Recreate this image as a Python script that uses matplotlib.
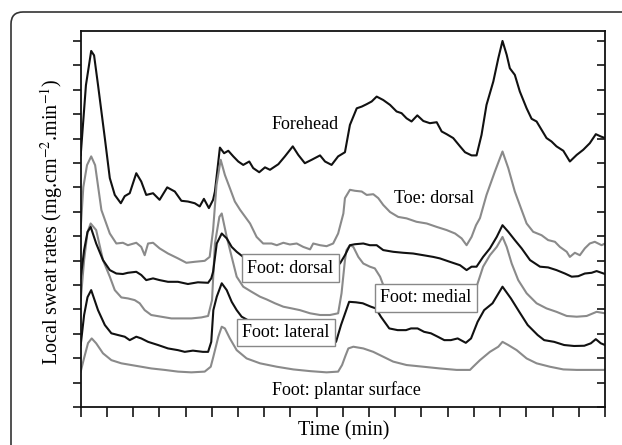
import numpy as np
import matplotlib
matplotlib.use('Agg')
import matplotlib.pyplot as plt
from matplotlib.patches import FancyBboxPatch

plt.rcParams['font.family'] = ['Liberation Serif', 'DejaVu Serif']
plt.rcParams['mathtext.fontset'] = 'stix'

# local sweat rate traces (x: time ticks, y: offset sweat rate units)
forehead_t = [0, 0.20, 0.40, 0.51, 0.66, 0.92, 1.11, 1.30, 1.53, 1.68, 1.87, 2.12, 2.31, 2.50, 2.76,
              3.01, 3.30, 3.59, 3.84, 4.09, 4.35, 4.54, 4.70, 4.89, 5.05, 5.12, 5.31, 5.47, 5.63, 5.82,
              6.01, 6.20, 6.43, 6.58, 6.81, 7.03, 7.22, 7.54, 7.79, 8.09, 8.30, 8.55, 8.81, 9.13, 9.32,
              9.57, 9.82, 10.08, 10.27, 10.53, 10.72, 10.91, 11.10, 11.29, 11.54, 11.80, 12.05, 12.24,
              12.43, 12.62, 12.84, 13.07, 13.32, 13.58, 13.77, 13.96, 14.21, 14.47, 14.66, 14.91, 15.10,
              15.29, 15.48, 15.74, 15.93, 16.09, 16.25, 16.37, 16.56, 16.75, 17.01, 17.20, 17.39, 17.58,
              17.77, 17.96, 18.15, 18.41, 18.66, 18.92, 19.17, 19.42, 19.65, 19.83, 20.00]
forehead = [10.32, 13.19, 14.59, 14.41, 13.20, 11.02, 9.38, 8.69, 8.35, 8.64, 8.76, 9.58, 9.24, 8.69, 8.76,
            8.49, 9.00, 8.83, 8.45, 8.42, 8.35, 8.22, 8.53, 8.15, 8.49, 8.83, 10.63, 10.40, 10.50, 10.27,
            10.06, 9.92, 10.06, 9.79, 9.62, 9.82, 9.72, 9.95, 10.27, 10.68, 10.33, 9.99, 10.13, 10.31, 10.06,
            9.92, 10.27, 10.44, 11.56, 12.24, 12.31, 12.41, 12.52, 12.72, 12.58, 12.38, 12.11, 12.04,
            11.83, 11.70, 11.95, 11.72, 11.63, 11.67, 11.29, 11.18, 11.02, 10.68, 10.44, 10.31, 10.31,
            11.15, 12.38, 13.34, 14.29, 15.00, 14.43, 13.88, 13.61, 12.93, 12.24, 11.81, 11.70, 11.36,
            11.02, 10.88, 10.68, 10.50, 10.06, 10.33, 10.54, 10.81, 11.18, 11.09, 11.02]

toe_t = [0, 0.10, 0.24, 0.40, 0.55, 0.79, 1.11, 1.36, 1.61, 1.80, 2.12, 2.31, 2.44, 2.57, 2.76, 3.01,
         3.33, 3.71, 4.03, 4.35, 4.73, 4.92, 5.05, 5.18, 5.34, 5.50, 5.69, 5.88, 6.08, 6.46, 6.71, 6.96,
         7.28, 7.48, 7.73, 7.98, 8.24, 8.49, 8.75, 8.87, 9.13, 9.38, 9.63, 9.82, 10.02, 10.08, 10.27,
         10.46, 10.72, 10.91, 11.16, 11.35, 11.54, 11.80, 12.11, 12.43, 12.81, 13.20, 13.58, 13.96,
         14.28, 14.53, 14.72, 14.91, 15.08, 15.23, 15.48, 15.80, 16.09, 16.31, 16.56, 16.82, 17.01,
         17.26, 17.58, 17.83, 18.09, 18.28, 18.54, 18.66, 18.85, 19.04, 19.23, 19.42, 19.61, 19.87, 20.00]
toe = [7.33, 9.01, 9.91, 10.27, 9.91, 8.07, 7.11, 6.70, 6.73, 6.63, 6.73, 6.56, 6.22, 6.70, 6.73, 6.50,
       6.29, 6.09, 5.91, 5.95, 5.99, 6.15, 7.25, 9.09, 10.13, 9.51, 8.97, 8.42, 8.08, 7.52, 6.97, 6.70,
       6.70, 6.63, 6.73, 6.66, 6.70, 6.56, 6.46, 6.70, 6.63, 6.59, 6.70, 7.11, 7.93, 8.56, 8.90,
       8.86, 8.83, 8.69, 8.72, 8.56, 8.28, 7.99, 7.79, 7.73, 7.59, 7.52, 7.38, 7.25,
       7.11, 6.91, 6.63, 6.97, 7.45, 7.74, 8.69, 9.65, 10.47, 9.79, 8.83, 8.07, 7.52,
       7.18, 7.04, 6.84, 6.77, 6.56, 6.36, 6.15, 6.32, 6.22, 6.50, 6.70, 6.77, 6.63, 6.70]

dorsal_t = [0, 0.13, 0.26, 0.38, 0.59, 0.85, 1.11, 1.36, 1.61, 1.80, 2.12, 2.31, 2.50, 2.76, 3.01, 3.33,
            3.71, 4.09, 4.47, 4.86, 4.98, 5.05, 5.19, 5.38, 5.57, 5.76, 5.95, 6.20, 7.22, 8.36, 9.32,
            9.89, 10.08, 10.27, 10.46, 10.78, 11.03, 11.29, 11.54, 11.92, 12.30, 12.68, 13.07, 13.45,
            13.70, 14.08, 14.47, 14.72, 14.91, 15.10, 15.35, 15.61, 15.87, 16.09, 16.31, 16.56, 16.82,
            17.14, 17.52, 17.83, 18.15, 18.47, 18.73, 18.98, 19.23, 19.49, 19.68, 20.00]
dorsal = [5.28, 6.43, 7.17, 7.38, 6.70, 6.02, 5.61, 5.47, 5.45, 5.50, 5.54, 5.41, 5.20, 5.27, 5.20, 5.13,
          5.13, 5.04, 5.11, 5.09, 5.27, 5.54, 6.70, 7.11, 6.91, 6.56, 6.36, 6.15, 6.02, 5.94, 5.86,
          5.88, 6.22, 6.63, 6.67, 6.70, 6.63, 6.63, 6.43, 6.36, 6.32, 6.29, 6.22, 6.15,
          6.09, 5.95, 5.81, 5.61, 5.75, 5.75, 6.15, 6.50, 6.97, 7.45, 7.18, 6.84, 6.50,
          6.02, 5.75, 5.72, 5.61, 5.47, 5.34, 5.36, 5.47, 5.50, 5.57, 5.45]

medial_t = [0, 0.13, 0.26, 0.38, 0.59, 0.85, 1.11, 1.30, 1.55, 1.80, 2.06, 2.25, 2.44, 2.69, 3.07, 3.46,
            3.84, 4.22, 4.60, 4.86, 5.01, 5.12, 5.29, 5.38, 5.57, 5.76, 5.95, 6.20, 6.52, 6.84, 7.09,
            7.41, 7.73, 8.05, 8.36, 8.75, 9.13, 9.51, 9.82, 9.95, 10.08, 10.14, 10.27, 10.40, 10.59,
            10.78, 11.03, 11.22, 11.42, 11.54, 12.18, 13.32, 14.47, 14.85, 15.10, 15.35, 15.61, 15.87,
            16.09, 16.25, 16.44, 16.69, 17.01, 17.39, 17.77, 18.15, 18.54, 18.92, 19.30, 19.68, 20.00]
medial = [4.38, 6.02, 7.17, 7.52, 7.25, 6.02, 5.34, 4.79, 4.49, 4.45, 4.38, 4.25, 3.97, 3.77, 3.70, 3.63,
          3.63, 3.63, 3.67, 3.73, 4.38, 6.70, 7.79, 7.93, 6.97, 6.15, 5.34, 4.93, 4.72, 4.52, 4.41,
          4.25, 4.11, 4.04, 3.97, 3.84, 3.77, 3.77, 3.84, 4.66, 6.02, 6.43, 6.63, 6.56, 6.15,
          5.88, 5.75, 5.68, 5.34, 5.00, 4.59, 4.30, 4.05, 3.97, 4.93, 5.75, 6.22, 6.56,
          6.97, 6.56, 5.88, 5.20, 4.66, 4.25, 4.04, 3.90, 3.73, 3.70, 3.73, 3.90, 3.84]

lateral_t = [0, 0.13, 0.26, 0.40, 0.66, 0.92, 1.17, 1.42, 1.68, 1.87, 2.12, 2.31, 2.57, 2.95, 3.33, 3.71,
             3.97, 4.28, 4.66, 4.86, 4.98, 5.06, 5.19, 5.38, 5.57, 5.76, 5.95, 6.14, 6.84, 7.98, 9.13,
             9.74, 9.93, 10.24, 10.50, 10.76, 11.07, 11.26, 11.45, 11.77, 12.09, 12.41, 12.60, 12.85,
             13.10, 13.36, 13.62, 13.87, 14.12, 14.38, 14.69, 14.89, 15.14, 15.39, 15.71, 16.09, 16.41,
             16.73, 17.05, 17.43, 17.68, 18.06, 18.44, 18.82, 19.21, 19.46, 19.65, 19.84, 20.00]
lateral = [2.54, 3.77, 4.50, 4.79, 3.97, 3.36, 3.02, 2.95, 2.88, 2.74, 2.88, 2.81, 2.67, 2.54, 2.40, 2.33,
           2.26, 2.31, 2.26, 2.26, 2.67, 3.97, 4.52, 5.07, 4.79, 4.31, 3.97, 3.70, 3.28, 2.95, 2.74,
           2.67, 3.36, 4.31, 4.29, 4.25, 4.11, 4.04, 3.70, 3.22, 3.15, 3.15, 3.22, 3.22,
           3.08, 3.02, 2.88, 2.74, 2.74, 2.81, 2.63, 2.81, 3.49, 3.97, 4.25, 4.93, 4.45,
           3.90, 3.36, 2.95, 2.74, 2.67, 2.54, 2.50, 2.51, 2.61, 2.78, 2.61, 2.54]

plantar_t = [0, 0.13, 0.28, 0.42, 0.59, 0.85, 1.17, 1.55, 1.93, 2.31, 2.69, 3.20, 3.71, 4.22, 4.73, 4.96,
             5.06, 5.25, 5.38, 5.50, 5.69, 5.95, 6.33, 6.84, 7.48, 8.11, 8.75, 9.38, 9.82, 9.97, 10.10,
             10.21, 10.40, 10.78, 11.16, 11.54, 11.92, 12.43, 13.07, 13.70, 14.34, 14.85, 14.97, 15.23,
             15.61, 15.93, 16.09, 16.31, 16.63, 17.01, 17.39, 17.90, 18.41, 18.92, 19.42, 20.00]
plantar = [1.45, 2.01, 2.62, 2.81, 2.61, 2.20, 1.92, 1.79, 1.72, 1.65, 1.58, 1.52, 1.45, 1.42, 1.45, 1.65,
           2.06, 2.88, 3.29, 3.22, 2.81, 2.33, 1.99, 1.79, 1.65, 1.54, 1.47, 1.42, 1.45, 1.72, 2.10,
           2.40, 2.47, 2.40, 2.26, 2.06, 1.86, 1.72, 1.65, 1.58, 1.52, 1.52, 1.65, 1.92,
           2.26, 2.47, 2.67, 2.54, 2.33, 1.99, 1.79, 1.65, 1.54, 1.52, 1.52, 1.52]

BLACK = '#111111'
GREY = '#8a8a8a'

fig = plt.figure(figsize=(6.22, 4.45), dpi=100)

# rounded panel border running off the right and bottom edges
frame = FancyBboxPatch((11, -30), 660, 463, boxstyle='round,pad=0,rounding_size=12',
                       transform=None, facecolor='none', edgecolor='#333333', linewidth=1.2)
fig.patches.append(frame)

ax = fig.add_axes([80.7 / 622, 38 / 445, 524.3 / 622, 376.3 / 445])

ax.plot(forehead_t, forehead, color=BLACK, lw=1.5)
ax.plot(toe_t, toe, color=GREY, lw=1.5)
ax.plot(medial_t, medial, color=GREY, lw=1.5)
ax.plot(plantar_t, plantar, color=GREY, lw=1.5)
ax.plot(dorsal_t, dorsal, color=BLACK, lw=1.5)
ax.plot(lateral_t, lateral, color=BLACK, lw=1.5)

ax.set_xlim(0, 20)
ax.set_ylim(0, 15.42)
ax.set_xticks(np.arange(0, 21))
ax.set_yticks(np.arange(0, 16))
ax.tick_params(axis='x', direction='out', length=7, width=1.1, labelbottom=False, top=False)
ax.tick_params(axis='y', direction='out', length=6, width=1.1, labelleft=False)
for s in ax.spines.values():
    s.set_linewidth(1.3)
    s.set_color('#111111')

# inward ticks on the right side
ay = ax.secondary_yaxis('right')
ay.set_yticks(np.arange(0, 16))
ay.tick_params(direction='in', length=6, width=1.1, labelright=False)
ay.spines['right'].set_visible(False)

box = dict(boxstyle='square,pad=0.3', facecolor='white', edgecolor='#888888', linewidth=1.0)
ax.text(8.55, 11.59, 'Forehead', fontsize=13, ha='center', va='center')
ax.text(13.47, 8.56, 'Toe: dorsal', fontsize=13, ha='center', va='center')
ax.text(8.00, 5.69, 'Foot: dorsal', fontsize=13, ha='center', va='center', bbox=box)
ax.text(7.83, 3.05, 'Foot: lateral', fontsize=13, ha='center', va='center', bbox=box)
ax.text(13.17, 4.48, 'Foot: medial', fontsize=13, ha='center', va='center', bbox=box)
ax.text(10.14, 0.70, 'Foot: plantar surface', fontsize=13, ha='center', va='center')

fig.text(52 / 622, 1 - 222 / 445, r'Local sweat rates (mg.cm$^{-2}$.min$^{-1}$)',
         rotation=90, ha='center', va='center', fontsize=14.5)
fig.text(344 / 622, 1 - 431 / 445, 'Time (min)', ha='center', va='center', fontsize=14.5)

fig.savefig('out.png', dpi=100)
